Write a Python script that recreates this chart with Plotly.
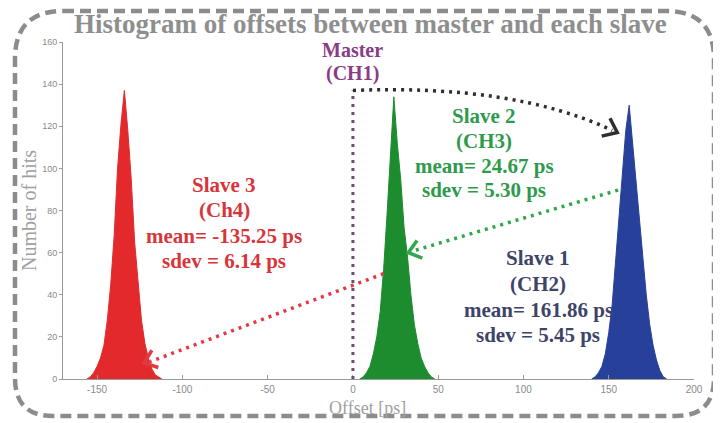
import math
import plotly.graph_objects as go

# ---------------- data ----------------
red_bins = [-156, -154, -152, -150, -148, -146, -144, -142, -140, -138, -136, -134,
            -132, -130, -128, -126, -124, -122, -120, -118, -116, -114, -112]
red_counts = [0, 1, 3, 6, 10, 16, 28, 45, 68, 100, 121, 137,
              118, 95, 65, 45, 28, 17, 10, 5, 2, 1, 0]

green_bins = [4, 6, 8, 10, 12, 14, 16, 18, 20, 22, 24, 26,
              28, 30, 32, 34, 36, 38, 40, 42, 44, 46, 48]
green_counts = [0, 1, 3, 6, 12, 20, 32, 52, 78, 108, 134, 112,
                95, 72, 58, 40, 26, 17, 10, 6, 3, 1, 0]

blue_bins = [140, 142, 144, 146, 148, 150, 152, 154, 156, 158, 160, 162,
             164, 166, 168, 170, 172, 174, 176, 178, 180, 182, 184]
blue_counts = [0, 1, 3, 6, 12, 22, 35, 55, 75, 98, 118, 130,
               112, 95, 75, 56, 40, 26, 16, 9, 4, 1, 0]

x_ticks = [-150, -100, -50, 0, 50, 100, 150, 200]
y_ticks = [0, 20, 40, 60, 80, 100, 120, 140, 160]

title_text = "Histogram of offsets between master and each slave"
x_title = "Offset [ps]"
y_title = "Number of hits"

master_lines = ["Master", "(CH1)"]
slave2_lines = ["Slave 2", "(CH3)", "mean= 24.67 ps", "sdev = 5.30 ps"]
slave3_lines = ["Slave 3", "(Ch4)", "mean= -135.25 ps", "sdev = 6.14 ps"]
slave1_lines = ["Slave 1", "(CH2)", "mean= 161.86 ps", "sdev = 5.45 ps"]

# ---------------- layout geometry ----------------
# the page places the figure 8px in from the top-left corner; positions below
# are given in window pixels and shifted by OFF into figure pixels
OFF = 8
W, H = 721, 423
PL, PR, PT, PB = 63, 694, 42, 379          # plot area in window pixels
ML, MT = PL - OFF, PT - OFF
MR, MB = W - (PR - OFF), H - (PB - OFF)
PW, PH = PR - PL, PB - PT
XR = [-170, 200]
YR = [0, 160]
KX = PW / (XR[1] - XR[0])
KY = PH / (YR[1] - YR[0])


def pxx(px):
    return (px - PL) / PW


def pxy(py):
    return (PB - py) / PH


RED = "#e3292b"
GREEN = "#1c8c2e"
BLUE = "#27419a"

fig = go.Figure()
for xs, ys, col in [(red_bins, red_counts, RED),
                    (green_bins, green_counts, GREEN),
                    (blue_bins, blue_counts, BLUE)]:
    fig.add_trace(go.Scatter(x=xs, y=ys, mode="lines", fill="tozeroy",
                             line=dict(color=col, width=1), fillcolor=col,
                             hoverinfo="skip", showlegend=False))

shapes = []

# dashed rounded frame (window pixel geometry -> paper coords)
x0, x1, y0, y1 = 15, 714, 11, 416
rt, rb = 48, 38
pts = [
    ("M", (x0 + rt, y0)), ("L", (x1 - rt, y0)), ("Q", (x1, y0), (x1, y0 + rt)),
    ("L", (x1, y1 - rb)), ("Q", (x1, y1), (x1 - rb, y1)), ("L", (x0 + rb, y1)),
    ("Q", (x0, y1), (x0, y1 - rb)), ("L", (x0, y0 + rt)), ("Q", (x0, y0), (x0 + rt, y0)),
]
path = ""
for p in pts:
    path += p[0] + " " + " ".join(f"{pxx(a):.5f},{pxy(b):.5f}" for a, b in p[1:]) + " "
path += "Z"
shapes.append(dict(type="path", xref="paper", yref="paper", path=path,
                   line=dict(color="#8c8c8c", width=4.5, dash="11px,6px"), layer="below"))

# master vertical dotted line
shapes.append(dict(type="line", xref="x", yref="y", x0=0, x1=0, y0=0, y1=137,
                   line=dict(color="#6e4a70", width=3, dash="3px,5px")))


def chevron(tx, ty, fx, fy, col, arm=15, spread=38):
    dx = (tx - fx) * KX
    dy = (ty - fy) * KY
    ang = math.atan2(dy, dx)
    segs = []
    for s in (-1, 1):
        a = ang + math.pi + s * math.radians(spread)
        ex = tx + arm * math.cos(a) / KX
        ey = ty + arm * math.sin(a) / KY
        segs.append((ex, ey))
    p = f"M {segs[0][0]},{segs[0][1]} L {tx},{ty} L {segs[1][0]},{segs[1][1]}"
    return dict(type="path", xref="x", yref="y", path=p,
                line=dict(color=col, width=3.5))


# black curved dotted arrow master -> slave 1
shapes.append(dict(type="path", xref="x", yref="y",
                   path="M 0,137 Q 95,140 152,118",
                   line=dict(color="#2e2e2e", width=3.5, dash="3px,5px")))
shapes.append(chevron(155, 117, 110, 134, "#2e2e2e", arm=16))

# green dotted arrow slave1 -> slave2
shapes.append(dict(type="line", xref="x", yref="y", x0=155.5, y0=89.7, x1=34, y1=60.5,
                   line=dict(color="#2ea84a", width=3.5, dash="3px,5px")))
shapes.append(chevron(32.5, 60, 155.5, 89.7, "#2ea84a"))

# red dotted arrow slave2 -> slave3
shapes.append(dict(type="line", xref="x", yref="y", x0=18, y0=50, x1=-119, y1=8.2,
                   line=dict(color="#e23a44", width=3.5, dash="3px,5px")))
shapes.append(chevron(-122.5, 7.6, 18, 50, "#e23a44"))

annotations = []


def add_text(t, cx, cy, col, size, bold=True, angle=0):
    annotations.append(dict(text=f"<b>{t}</b>" if bold else t, xref="paper", yref="paper",
                            x=pxx(cx), y=pxy(cy), xanchor="center", yanchor="middle",
                            showarrow=False, textangle=angle,
                            font=dict(family="Liberation Serif", size=size, color=col)))


def add_block(lines, cx, ys, col, size=21):
    for t, y in zip(lines, ys):
        add_text(t, cx, y, col, size)


add_block(master_lines, 352, [50, 74], "#8a3c84", size=20)
add_block(slave2_lines, 484, [116, 141, 166, 190], "#2e9a4b")
add_block(slave3_lines, 224, [185, 210, 236, 261], "#d8353a")
add_block(slave1_lines, 538, [258, 284, 310, 335], "#3e4468")

# title and axis titles
add_text(title_text, 370, 24, "#8e8e8e", 27)
add_text(x_title, 367, 408, "#a0a0a0", 18, bold=False)

fig.update_layout(
    width=W, height=H,
    margin=dict(l=ML, r=MR, t=MT, b=MB),
    paper_bgcolor="white", plot_bgcolor="white",
    shapes=shapes, annotations=annotations,
    xaxis=dict(range=XR, tickvals=x_ticks, ticktext=[str(v) for v in x_ticks],
               showgrid=False, zeroline=False, showline=True, linecolor="#9a9a9a",
               linewidth=1, ticks="inside", ticklen=4, tickcolor="#9a9a9a",
               ticklabelstandoff=1,
               tickfont=dict(family="Liberation Sans", size=10, color="#8a8a8a")),
    yaxis=dict(range=YR, tickvals=y_ticks, showgrid=False, zeroline=False,
               showline=True, linecolor="#9a9a9a", linewidth=1,
               ticks="outside", ticklen=3, tickcolor="#9a9a9a",
               tickfont=dict(family="Liberation Sans", size=9, color="#8a8a8a"),
               title=dict(text=y_title, standoff=0,
                          font=dict(family="Liberation Serif", size=20, color="#a0a0a0"))),
)

fig.write_html("out.html")
